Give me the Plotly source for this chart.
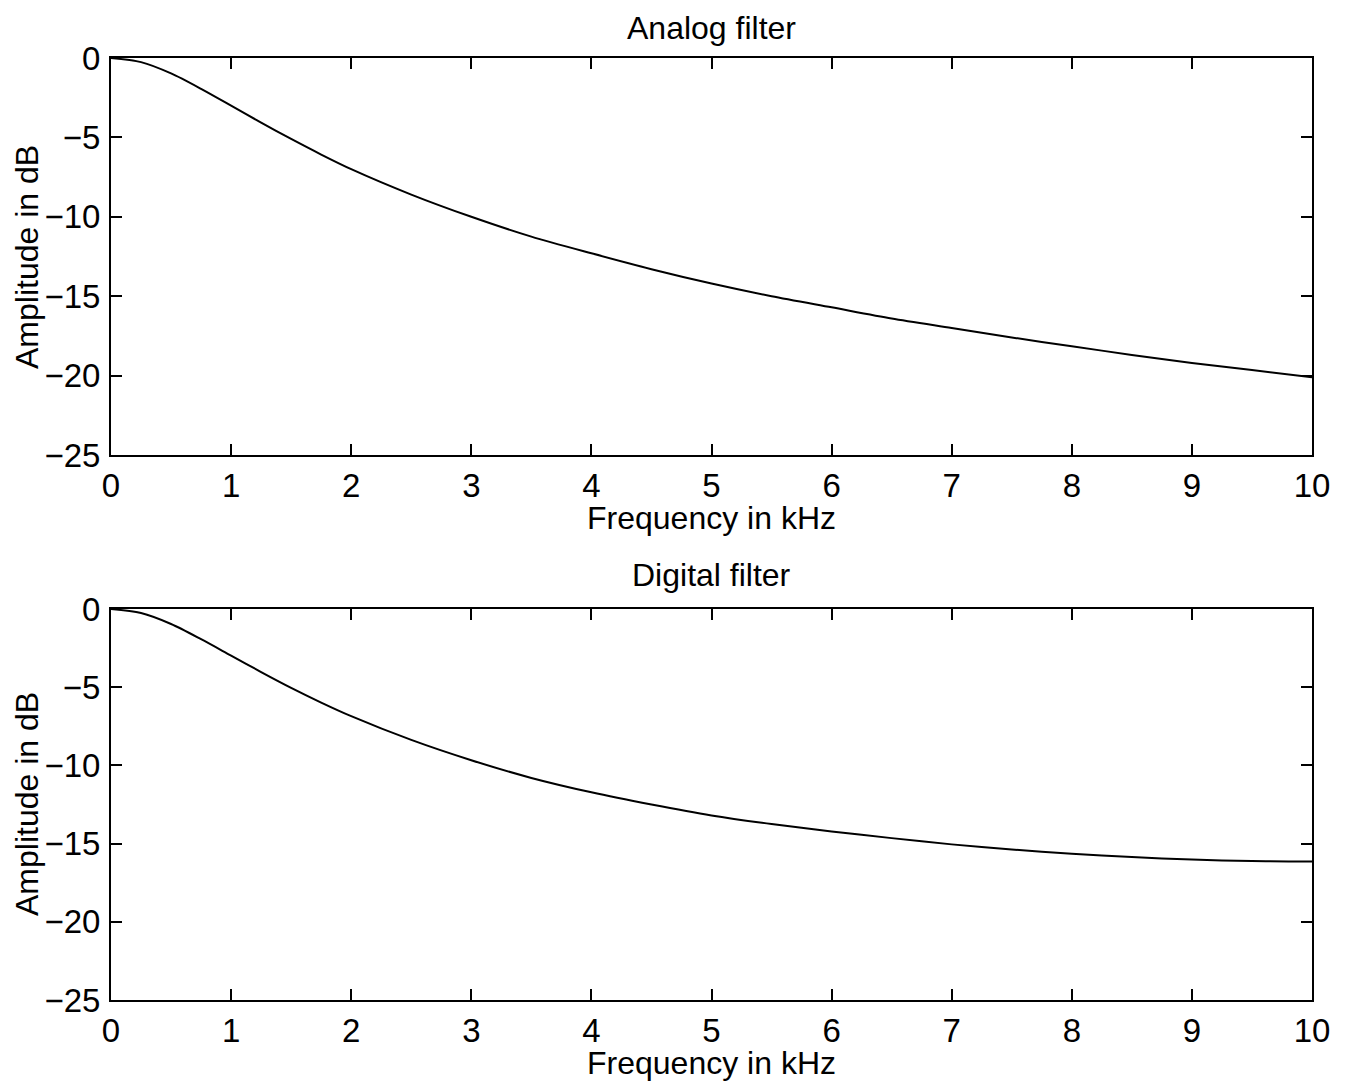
import plotly.graph_objects as go

freq_khz = [0, 0.25, 0.5, 0.75, 1, 1.25, 1.5, 1.75, 2, 2.5, 3, 3.5, 4, 4.5, 5, 5.5, 6,
            6.5, 7, 7.5, 8, 8.5, 9, 9.5, 10]
analog_db = [0, -0.26, -0.97, -1.94, -3.0, -4.07, -5.1, -6.08, -7.0, -8.6, -10.0, -11.25,
             -12.3, -13.3, -14.2, -15.0, -15.7, -16.4, -17.0, -17.6, -18.15, -18.7, -19.2,
             -19.65, -20.1]
digital_db = [0, -0.26, -0.96, -1.93, -2.98, -4.03, -5.04, -5.98, -6.85, -8.37, -9.67, -10.8,
              -11.72, -12.5, -13.2, -13.75, -14.22, -14.65, -15.05, -15.38, -15.65, -15.86,
              -16.02, -16.12, -16.15]

x_ticks = [0, 1, 2, 3, 4, 5, 6, 7, 8, 9, 10]
y_ticks = [0, -5, -10, -15, -20, -25]
titles = ["Analog filter", "Digital filter"]
xlabel = "Frequency in kHz"
ylabel = "Amplitude in dB"

W, H = 1346, 1083
OFF = 8  # page body margin
FONT = "Liberation Sans, Arial, Helvetica, sans-serif"
FS = 32
TFS = 33


def px(x):
    return (x - OFF) / W


def py(y):
    return 1 - (y - OFF) / H


fig = go.Figure()
fig.add_trace(go.Scatter(x=freq_khz, y=analog_db, mode="lines",
                         line=dict(color="black", width=2, shape="spline", smoothing=0.8),
                         xaxis="x", yaxis="y", showlegend=False))
fig.add_trace(go.Scatter(x=freq_khz, y=digital_db, mode="lines",
                         line=dict(color="black", width=2, shape="spline", smoothing=0.8),
                         xaxis="x2", yaxis="y2", showlegend=False))

xdom = [px(111), px(1312)]
ydom_top = [py(455), py(58)]
ydom_bot = [py(1000), py(609)]

axis_common = dict(showgrid=False, zeroline=False, showline=True, linecolor="black",
                   linewidth=2, mirror="ticks", ticks="inside", ticklen=11, tickwidth=2,
                   tickcolor="black", automargin=False,
                   tickfont=dict(family=FONT, size=TFS, color="black"))

fig.update_layout(
    template="none",
    width=W, height=H,
    margin=dict(l=0, r=0, t=0, b=0),
    paper_bgcolor="white", plot_bgcolor="white",
    xaxis=dict(domain=xdom, anchor="y", range=[0, 10], tickvals=x_ticks,
               ticklabelstandoff=0, **axis_common),
    yaxis=dict(domain=ydom_top, anchor="x", range=[-25, 0], tickvals=y_ticks,
               ticklabelstandoff=2, **axis_common),
    xaxis2=dict(domain=xdom, anchor="y2", range=[0, 10], tickvals=x_ticks,
                ticklabelstandoff=0, **axis_common),
    yaxis2=dict(domain=ydom_bot, anchor="x2", range=[-25, 0], tickvals=y_ticks,
                ticklabelstandoff=2, **axis_common),
)

font = dict(family=FONT, size=FS, color="black")
ann = []
for txt, yc in zip(titles, (28, 575)):
    ann.append(dict(text=txt, x=px(711), y=py(yc), xref="paper", yref="paper",
                    showarrow=False, font=font, xanchor="center", yanchor="middle"))
for yc in (518, 1063):
    ann.append(dict(text=xlabel, x=px(711), y=py(yc), xref="paper", yref="paper",
                    showarrow=False, font=font, xanchor="center", yanchor="middle"))
for yc in (257, 804):
    ann.append(dict(text=ylabel, x=px(27), y=py(yc), xref="paper", yref="paper",
                    showarrow=False, font=font, textangle=-90,
                    xanchor="center", yanchor="middle"))
fig.update_layout(annotations=ann)

fig.write_html("out.html")
